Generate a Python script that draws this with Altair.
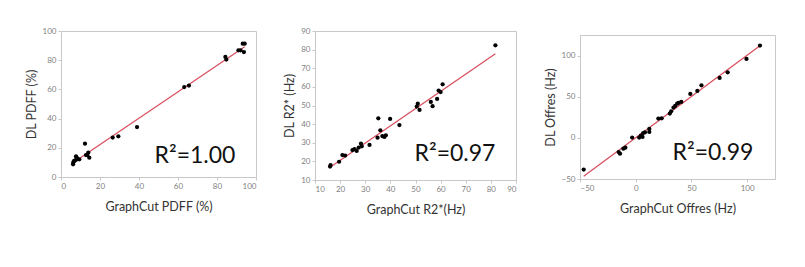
import altair as alt
import pandas as pd

# Panel 1: PDFF (%)
pdff_gc = [6.2, 6.3, 6.7, 7.4, 7.7, 8.0, 8.5, 9.4, 12.3, 13.5, 14.0, 14.5, 12.8,
           26.5, 29.4, 39.0, 63.2, 65.6, 84.3, 84.8, 91.0, 92.1, 93.2, 94.2, 93.8]
pdff_dl = [8.7, 10.0, 11.0, 11.4, 14.2, 13.2, 12.3, 12.1, 22.8, 15.0, 16.7, 13.2, 15.0,
           27.0, 27.9, 34.2, 61.6, 62.6, 82.2, 80.4, 86.8, 86.8, 91.3, 91.3, 85.6]

# Panel 2: R2* (Hz)
r2_gc = [16.0, 16.2, 19.6, 20.9, 22.0, 24.9, 25.7, 26.6, 27.4, 28.3, 28.6, 31.7, 34.9,
         35.2, 36.0, 36.8, 37.6, 38.2, 39.9, 43.6, 50.5, 50.9, 51.6, 56.1, 56.8, 58.6,
         59.2, 60.0, 60.8, 81.8]
r2_dl = [17.2, 18.0, 19.8, 23.4, 23.1, 26.1, 26.6, 25.6, 27.4, 29.5, 28.1, 28.8, 32.7,
         43.1, 36.7, 33.6, 33.1, 34.0, 42.8, 39.5, 49.4, 51.0, 47.6, 51.9, 49.6, 53.5,
         58.0, 57.2, 61.4, 82.3]

# Panel 3: Offres (Hz)
off_gc = [-46.7, -15.3, -14.1, -11.1, -9.3, -3.2, 3.1, 4.6, 6.1, 6.7, 8.3, 12.2, 12.2,
          20.3, 23.3, 30.6, 31.8, 33.9, 35.4, 37.2, 38.4, 40.9, 49.0, 55.3, 59.0, 75.3,
          82.5, 99.4, 111.5]
off_dl = [-38.6, -17.2, -19.2, -13.1, -11.9, 0.3, 0.3, 2.7, 1.1, 5.9, 6.8, 10.8, 7.2,
          23.4, 23.8, 29.5, 32.3, 36.8, 38.8, 41.6, 42.4, 43.6, 53.4, 57.0, 63.9, 72.8,
          79.7, 95.9, 112.2]

r2_labels = ["R²=1.00", "R²=0.97", "R²=0.99"]
x_titles = ["GraphCut PDFF (%)", "GraphCut R2*(Hz)", "GraphCut Offres (Hz)"]
y_titles = ["DL PDFF (%)", "DL R2* (Hz)", "DL Offres (Hz)"]
pdff_ticks = [0, 20, 40, 60, 80, 100]
r2_ticks = [10, 20, 30, 40, 50, 60, 70, 80, 90]
off_ticks = [-50, 0, 50, 100]

FONT = "Lato"
GRID = "#c8c8c8"


def panel(xs, ys, label, xt, yt, xdom, ydom, xticks, yticks, w, h, tx, ty):
    df = pd.DataFrame({"x": xs, "y": ys})
    base = alt.Chart(df)
    xenc = alt.X("x:Q", scale=alt.Scale(domain=xdom, nice=False, zero=False),
                 axis=alt.Axis(values=xticks, title=xt, labelOverlap=False))
    yenc = alt.Y("y:Q", scale=alt.Scale(domain=ydom, nice=False, zero=False),
                 axis=alt.Axis(values=yticks, title=yt, labelOverlap=False))
    pts = base.mark_circle(size=18, color="#000000", opacity=1).encode(x=xenc, y=yenc)
    line = base.transform_regression("x", "y").mark_line(
        color="#d9505f", strokeWidth=1.3).encode(x=xenc, y=yenc)
    txt = alt.Chart(pd.DataFrame({"t": [label]})).mark_text(
        font=FONT, fontSize=23, color="#111111", align="center", baseline="middle"
    ).encode(text="t:N", x=alt.value(tx), y=alt.value(ty))
    return alt.layer(line, pts, txt).properties(width=w, height=h)


p1 = panel(pdff_gc, pdff_dl, r2_labels[0], x_titles[0], y_titles[0],
           [0, 100], [0, 100], pdff_ticks, pdff_ticks, 195, 146, 134, 125)
p2 = panel(r2_gc, r2_dl, r2_labels[1], x_titles[1], y_titles[1],
           [10, 90], [10, 90], r2_ticks, r2_ticks, 201, 149, 140, 123)
p3 = panel(off_gc, off_dl, r2_labels[2], x_titles[2], y_titles[2],
           [-50, 125], [-50, 125], off_ticks, off_ticks, 195, 144, 133, 118)

spacer = alt.Chart(pd.DataFrame({"v": [0]})).mark_point(opacity=0, size=1).encode(
    x=alt.value(0), y=alt.value(0)
).properties(width=195, height=1, view=alt.ViewBackground(stroke=None))

col3 = alt.vconcat(spacer, p3, spacing=2)

chart = alt.hconcat(p1, p2, col3, spacing=26).properties(
    padding={"left": 16, "top": 18, "right": 5, "bottom": 5}
).configure_view(stroke=GRID, strokeWidth=1).configure_axis(
    grid=False, domainColor=GRID, tickColor=GRID, tickSize=3,
    labelColor="#7f7f7f", labelFontSize=8, labelFont=FONT, labelPadding=2,
    titleFont=FONT, titleFontSize=12.5, titleFontWeight="normal", titleColor="#333333"
).configure_axisX(titlePadding=10).configure_axisY(titlePadding=4)

chart.save("out.html", embed_options={"renderer": "svg", "actions": False})
